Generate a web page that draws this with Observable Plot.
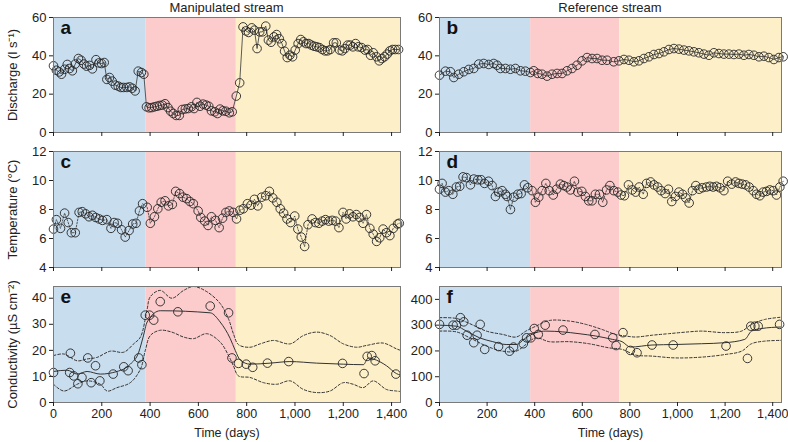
<!DOCTYPE html>
<html><head><meta charset="utf-8">
<script src="https://cdn.jsdelivr.net/npm/d3@7"></script>
<script src="https://cdn.jsdelivr.net/npm/@observablehq/plot@0.6"></script>
<style>
body{margin:0;background:#fff;font-family:"Liberation Sans",Arial,sans-serif;}
#root{position:relative;width:788px;height:442px;overflow:hidden;}
.p{position:absolute;}
.t{position:absolute;font-size:13px;color:#222;text-align:center;line-height:16px;}
</style></head><body><div id="root"></div>
<script>
// ---------- data ----------
const periodStart = [0, 383, 757];
const periodEnd = [383, 757, 1437];
const periodColors = ["#c8ddee", "#fccbcc", "#fdf0c9"];
const xTicks = [0, 200, 400, 600, 800, 1000, 1200, 1400];

// a: discharge, manipulated stream
const aDay = [0,12,24,33,46,57,67,78,90,103,114,126,137,149,161,176,188,199,210,221,232,243,256,268,279,290,304,315,326,338,351,364,374,
 385,396,407,418,429,440,451,462,474,485,496,508,521,533,546,558,571,582,594,607,619,632,643,654,668,679,690,701,714,728,740,
 757,771,785,797,808,821,832,843,854,865,879,890,901,913,924,935,946,957,968,979,990,1001,1013,1024,1035,1046,1057,1068,1079,1090,1101,1113,1124,1135,1146,1160,1171,1185,1196,1207,1218,1229,1240,1251,1262,1276,1290,1301,1313,1324,1338,1349,1360,1371,1382,1393,1404,1415,1429];
const aVal = [34.8,32.5,31.6,30.4,33,35.5,33.4,32.2,35.7,38.6,37.7,35.7,34.6,35,33.2,38,36.3,36,36.5,27.7,28.7,26.8,24.7,24.2,23.5,23.5,23.5,23.8,23.1,21.7,32,31.3,30.4,
 13.4,12.9,13,13.4,13.7,14.1,14.3,15,13,11.1,9.9,8.9,8.9,12,12.3,12.5,13.4,12.5,15.7,13.7,14.8,14.3,13.7,11.3,10.8,9.9,12.2,11.3,11.1,10.3,10.8,
 19,25.9,55.1,53,52.2,54.6,53.4,43.8,52.5,52.5,55.5,48.2,47.1,49.9,51.1,48.9,46.4,42.4,39.1,40.3,39.5,43,46.4,48.5,47.3,46.4,46.4,45.6,45,44.7,44.3,43.3,42.6,42.6,43.3,46.8,46.8,43,42.6,43.8,45.6,45.6,44.7,46.4,44.7,44.3,43,43.3,40.3,41.6,39.5,37.4,38.6,39.5,40.9,42.6,43.3,43.3,43.3];

// b: discharge, reference stream
const bDay = [0,25,46,60,81,102,123,144,165,186,207,228,242,256,277,298,319,340,361,382,396,413,431,452,473,494,515,536,557,578,599,620,641,662,683,704,732,754,775,796,817,838,859,880,901,922,943,964,985,1006,1027,1048,1069,1090,1111,1132,1153,1174,1195,1216,1237,1258,1279,1300,1321,1342,1363,1384,1405,1426,1444];
const bVal = [29.9,32,31.7,28.7,30.4,31.7,32.9,33.4,35.7,36,35.5,36,35.1,33.4,33.4,33,33.4,32.2,32,31.3,32.2,30.8,30.4,29.4,30.4,30.8,30.8,32.2,33.4,35.1,37.4,39.1,38.6,38.6,37.7,37.7,36.9,37.4,38.1,37.7,36.9,37.4,38.6,39.5,40.7,41.2,42.1,43.3,43.8,43.5,43,42.6,42.1,41.6,40.9,40.3,41.6,41.2,40.9,40.9,40.7,40.9,40.3,40.7,40.3,39.5,39.8,39.1,38.1,39.1,39.5];

// c: temperature, manipulated stream
const cDay = [0,12,29,46,61,74,90,106,119,133,147,161,175,189,203,221,238,251,265,282,297,313,328,342,356,369,
 388,401,418,432,446,462,476,492,506,522,536,551,565,579,599,610,626,640,654,671,686,700,714,728,744,758,
 772,786,803,818,832,846,862,879,894,908,925,939,953,967,982,999,1012,1026,1040,1054,1071,1085,1099,1113,1126,1140,1154,1168,1182,1199,1212,1226,1240,1254,1268,1282,1296,1310,1324,1338,1351,1365,1379,1393,1407,1425,1432];
const cVal = [6.65,7.3,6.7,7.75,7.1,6.4,6.4,7.8,7.85,7.7,7.5,7.6,7.45,7.35,7.25,7.3,6.7,7.1,7.05,6.6,6.1,6.55,7.0,7.05,7.9,8.4,
 8.15,7.05,7.5,8.05,8.5,8.6,8.25,8.35,9.25,9.1,8.85,8.75,8.55,8.4,7.9,7.45,7.2,6.9,7.5,7.25,6.75,7.4,7.8,7.9,7.8,7.35,
 7.95,8.05,8.4,8.3,8.7,8.25,8.85,8.95,9.25,8.8,8.5,8.05,7.75,7.35,7.1,7.55,6.65,6.1,5.45,6.95,7.35,7.1,7.05,7.2,7.3,7.2,7.25,7.2,6.75,7.8,7.35,7.7,7.5,7.65,7.45,7.05,7.65,6.7,6.3,5.8,6.05,6.65,6.4,6.2,6.7,7.0,7.05];

// d: temperature, reference stream
const dDay = [0,11,25,39,56,71,85,99,113,130,144,161,175,189,206,221,235,249,263,277,284,298,312,329,343,357,371,
 389,403,417,431,447,461,478,492,508,522,536,550,567,581,598,613,627,641,655,672,686,702,716,732,749,763,
 777,794,810,824,839,856,870,887,901,917,931,948,962,976,992,1006,1021,1035,1049,1063,1077,1091,1105,1122,1136,1150,1164,1178,1195,1211,1228,1244,1258,1272,1286,1301,1318,1332,1346,1360,1374,1388,1402,1416,1430,1444];
const dVal = [9.4,9.8,9.2,9.3,9.05,9.55,9.6,10.25,10.2,9.7,10.1,10.05,10.05,9.8,9.95,9.65,8.9,9.2,9.3,9.05,8.9,8.0,8.85,9.05,9.1,9.7,9.5,
 9.3,8.5,8.85,9.3,9.8,9.3,9.0,9.4,9.75,9.65,9.55,9.35,9.95,9.2,9.25,8.9,8.6,8.6,9.05,9.05,8.5,9.35,9.65,9.3,9.2,9.0,
 8.95,9.7,9.35,9.2,9.55,9.05,9.8,9.9,9.7,9.55,9.3,9.1,9.4,8.55,8.9,9.2,9.05,8.8,8.45,9.3,9.65,9.4,9.5,9.55,9.6,9.55,9.6,9.5,9.3,9.95,9.75,9.9,9.8,9.75,9.7,9.55,9.3,9.05,8.95,9.2,9.25,9.35,9.3,9.0,9.55,9.95];

// e: conductivity, manipulated stream
const eDay = [0,67,70,84,101,118,142,156,174,192,247,291,309,353,366,380,398,415,442,515,649,725,739,766,798,825,886,974,1197,1286,1299,1318,1332,1418];
const eVal = [11.5,11.5,18.9,10.2,7.2,9.6,17.1,7.6,14.1,8.3,10.9,13.7,12.2,17.1,14.5,33.5,33.5,31.6,38.7,34.8,37,34.4,17.1,15,14.7,13.5,15.1,15.7,15,11.1,17.7,18,16,10.9];
const eFitDay = [0,56,98,139,194,263,318,353,371,388,442,649,690,732,753,773,814,897,979,1090,1200,1283,1304,1324,1379,1420,1437];
const eFitVal = [11.9,12.4,10.9,11.9,10.9,11.9,14.7,19.3,25.1,30.9,35.2,34.4,30.9,24.5,19.9,16.3,14.7,15.1,15.7,15.1,14.7,14.5,17.1,16.7,14.1,11.1,10.5];
const eUpDay = [0,43,98,139,180,236,291,332,360,387,401,442,490,539,580,635,690,725,745,766,814,856,911,980,1035,1090,1145,1200,1255,1297,1365,1420,1437];
const eUpVal = [18,18.6,16,16.7,17.3,19.7,19.3,22.5,25.1,35.4,40.6,43,40,43,44.5,42.5,38,32,26.4,22.2,21.2,22.5,23.8,22.5,25.7,27,25.7,22.5,21.2,21.9,22.8,20.6,20];
const eLoDay = [0,43,98,139,194,222,263,318,360,380,401,442,490,539,580,635,690,725,745,766,814,870,925,980,1035,1090,1145,1200,1241,1283,1324,1379,1420,1437];
const eLoVal = [7,4.4,7,8.3,7,4.4,5.7,7.6,12.8,19.9,25.7,27.7,27,25.1,24.5,26.4,23.2,18,14.1,10.2,9.6,7.6,7,8.3,5,3.8,4.4,7.6,7,5.7,8.3,5,4.4,4.2];

// f: conductivity, reference stream
const fDay = [0,57,71,88,102,116,144,158,171,190,248,294,311,352,366,384,398,415,444,519,653,728,742,771,802,830,893,982,1204,1294,1308,1325,1339,1429];
const fVal = [303,300,300,329,313,261,232,261,303,206,217,199,215,228,251,251,287,264,300,281,264,251,221,271,202,193,223,223,219,171,296,296,296,303];
const fFitDay = [0,71,113,168,224,280,322,363,405,447,517,586,656,726,767,802,893,990,1101,1199,1283,1311,1353,1437];
const fFitVal = [300,296,277,251,236,225,225,251,271,277,274,267,258,245,236,215,223,225,228,232,245,277,287,293];
const fUpDay = [0,71,127,197,266,322,363,405,461,545,615,684,740,782,824,893,963,1047,1102,1199,1269,1311,1366,1437];
const fUpVal = [329,326,306,277,264,254,277,296,318,316,303,283,264,258,254,261,267,274,277,271,277,303,322,331];
const fLoDay = [0,71,127,197,266,322,363,405,461,545,628,712,767,824,893,990,1101,1199,1269,1311,1366,1437];
const fLoVal = [277,274,251,219,199,199,225,251,236,236,228,212,206,184,180,173,176,186,199,228,238,241];

// ---------- layout ----------
const cols = [
  {left: 0, width: 401, ml: 53, mr: 1},
  {left: 400, width: 388, ml: 39, mr: 7}
];
const rows = [
  {top: 0, height: 140, mt: 17, mb: 8},
  {top: 140, height: 135, mt: 11, mb: 8},
  {top: 275, height: 167, mt: 11, mb: 40}
];
const FONT = "'Liberation Sans', Arial, sans-serif";
const zip = (xs, ys) => xs.map((x, i) => ({x, y: ys[i]}));
const root = document.getElementById("root");

function panel(o) {
  const col = cols[o.col], row = rows[o.row];
  const marks = [];
  periodStart.forEach((s, i) => {
    marks.push(Plot.rect([{s, e: periodEnd[i]}], {x1: "s", x2: "e", y1: () => o.yDomain[0], y2: () => o.yDomain[1], fill: periodColors[i]}));
  });
  if (o.upper) marks.push(Plot.line(o.upper, {x: "x", y: "y", stroke: "#333", strokeWidth: 1, strokeDasharray: "2.5,2", curve: "catmull-rom", clip: true}));
  if (o.lower) marks.push(Plot.line(o.lower, {x: "x", y: "y", stroke: "#333", strokeWidth: 1, strokeDasharray: "2.5,2", curve: "catmull-rom", clip: true}));
  if (o.fit) marks.push(Plot.line(o.fit, {x: "x", y: "y", stroke: "#333", strokeWidth: 1, curve: "monotone-x"}));
  if (o.link) marks.push(Plot.line(o.pts, {x: "x", y: "y", stroke: "#333", strokeWidth: 0.8, strokeDasharray: o.linkDash || null}));
  marks.push(Plot.dot(o.pts, {x: "x", y: "y", r: 4.3, stroke: "#262626", strokeWidth: 0.9, fill: "none"}));
  marks.push(Plot.frame({stroke: "#7a7a7a", strokeWidth: 1}));
  marks.push(Plot.text([o.letter], {text: d => d, frameAnchor: "top-left", dx: 7, dy: 3, lineAnchor: "top", fontWeight: "bold", fontSize: 19, fill: "#111"}));
  marks.push(Plot.axisX({ticks: xTicks, tickSize: 4, tickPadding: 3, fontSize: 12.5,
    tickFormat: o.bottom ? d3.format(",") : () => "",
    label: o.bottom ? "Time (days)" : null, labelAnchor: "center", labelArrow: "none", labelOffset: 34}));
  marks.push(Plot.axisY({ticks: o.yTicks, tickSize: 4, tickPadding: 3,
    label: o.ylabel || null, labelAnchor: "center", labelArrow: "none", labelOffset: 46}));
  const svg = Plot.plot({
    width: col.width, height: row.height,
    marginLeft: col.ml, marginRight: col.mr, marginTop: row.mt, marginBottom: row.mb,
    x: {domain: [0, 1437]},
    y: {domain: o.yDomain},
    style: {fontFamily: FONT, fontSize: "13px", color: "#222", background: "transparent", overflow: "visible"},
    marks
  });
  const div = document.createElement("div");
  div.className = "p";
  div.style.left = col.left + "px";
  div.style.top = row.top + "px";
  div.appendChild(svg);
  root.appendChild(div);
}

panel({col: 0, row: 0, letter: "a", ylabel: "Discharge (l s⁻¹)", yDomain: [0, 60], yTicks: [0, 20, 40, 60], pts: zip(aDay, aVal), link: true});
panel({col: 1, row: 0, letter: "b", yDomain: [0, 60], yTicks: [0, 20, 40, 60], pts: zip(bDay, bVal), link: true});
panel({col: 0, row: 1, letter: "c", ylabel: "Temperature (°C)", yDomain: [4, 12], yTicks: [4, 6, 8, 10, 12], pts: zip(cDay, cVal), link: true, linkDash: "1.5,1.5"});
panel({col: 1, row: 1, letter: "d", yDomain: [4, 12], yTicks: [4, 6, 8, 10, 12], pts: zip(dDay, dVal), link: true, linkDash: "1.5,1.5"});
panel({col: 0, row: 2, letter: "e", ylabel: "Conductivity (µS cm⁻²)", yDomain: [0, 44.5], yTicks: [0, 10, 20, 30, 40], pts: zip(eDay, eVal), fit: zip(eFitDay, eFitVal), upper: zip(eUpDay, eUpVal), lower: zip(eLoDay, eLoVal), bottom: true});
panel({col: 1, row: 2, letter: "f", yDomain: [0, 450], yTicks: [0, 100, 200, 300, 400], pts: zip(fDay, fVal), fit: zip(fFitDay, fFitVal), upper: zip(fUpDay, fUpVal), lower: zip(fLoDay, fLoVal), bottom: true});

const titles = [["Manipulated stream", 53, 347], ["Reference stream", 439, 342]];
titles.forEach(([t, l, w]) => {
  const d = document.createElement("div");
  d.className = "t";
  d.style.left = l + "px"; d.style.width = w + "px"; d.style.top = "0px";
  d.textContent = t;
  root.appendChild(d);
});
</script></body></html>
